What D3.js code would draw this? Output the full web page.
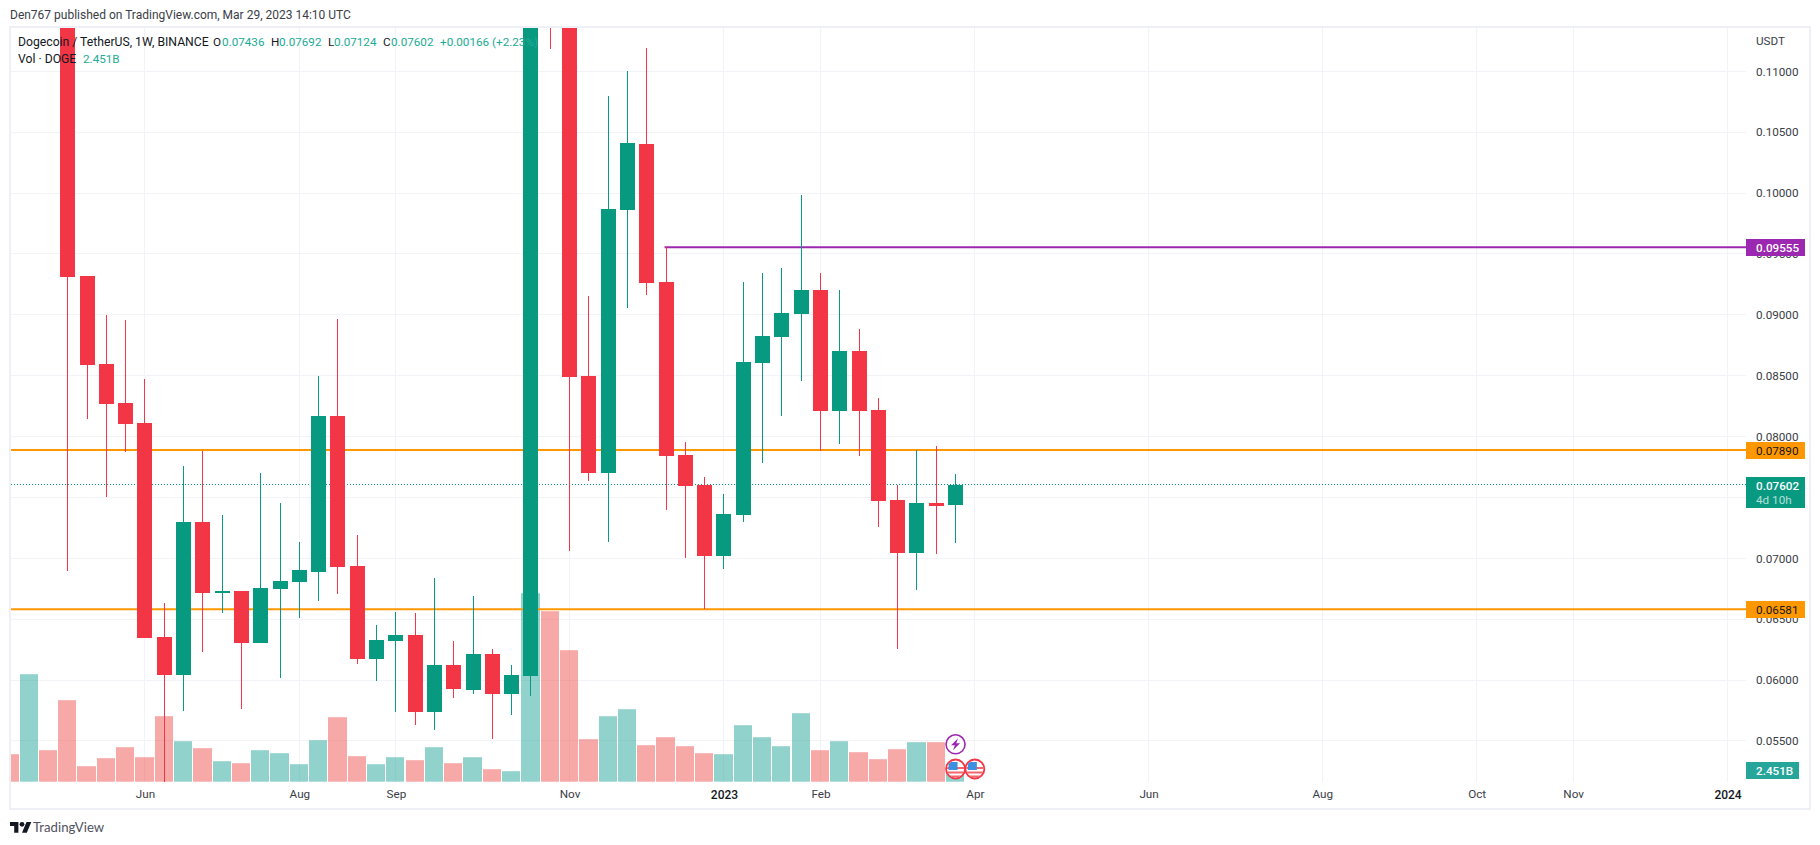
<!DOCTYPE html>
<html>
<head>
<meta charset="utf-8">
<title>Dogecoin / TetherUS, 1W</title>
<script src="https://cdn.jsdelivr.net/npm/d3@7"></script>
<style>
  html,body{margin:0;background:#fff;}
  svg{display:block;font-family:Roboto,sans-serif;}
  .axis path,.axis line{display:none;}
  .axis text{font-family:Roboto,sans-serif;font-size:11.7px;fill:#3a3d46;}
  .axis text.year{fill:#131722;font-weight:500;font-size:12px;}
</style>
</head>
<body>
<svg id="chart" width="1820" height="845"></svg>
<script>
/* =========================================================
 * DOGE/USDT 週足 (TradingView スナップショットの再現)
 *  - 値はすべて画像から読み取り。画面外の値は推定
 * ========================================================= */

const opens  = [.1300,.09317,.08594,.08274,.08110,.06353,.06041,.07297,.06714,.06731,.06304,.06747,.06805,.06887,.08168,.06936,.06173,.06320,.06370,.05737,.06123,.05918,.06214,.05885,.06033,.1300,.1240,.08496,.07700,.09859,.10401,.09268,.07847,.07601,.07018,.07355,.08603,.08816,.09005,.09202,.08209,.08701,.08217,.07478,.07043,.07453,.07436];
const highs  = [.1370,.09317,.08997,.08956,.08471,.06632,.07757,.07880,.07355,.06731,.07700,.07453,.07133,.08496,.08964,.07191,.06452,.06558,.06550,.06838,.06320,.06690,.06255,.06123,.1570,.1560,.1290,.09153,.10795,.11000,.11189,.09555,.07954,.07667,.07527,.09268,.09342,.09383,.09982,.09342,.09202,.08882,.08315,.07601,.07888,.07921,.07692];
const lows   = [.06895,.08143,.07503,.07872,.06345,.0495,.05746,.06230,.06550,.05762,.06304,.06017,.06509,.06649,.06706,.06132,.05992,.05737,.05631,.05590,.05852,.05885,.05516,.05713,.05869,.11181,.07059,.07634,.07133,.09054,.09161,.07396,.07002,.06583,.06912,.07297,.07782,.08168,.08455,.07880,.07938,.07839,.07256,.06255,.06739,.07035,.07124];
const closes = [.09311,.08586,.08266,.08102,.06345,.06041,.07297,.06714,.06731,.06304,.06755,.06813,.06903,.08168,.06928,.06173,.06329,.06370,.05737,.06123,.05926,.06214,.05885,.06041,.1300,.1240,.08488,.07700,.09867,.10409,.09260,.07839,.07593,.07018,.07363,.08611,.08824,.09013,.09202,.08209,.08701,.08209,.07470,.07043,.07453,.07429,.07602];

/* 出来高 (十億DOGE)。先頭3本はローソク足が画面外の週 */
const volumeWeeks = d3.range(-3, 47);
const volumes = [5.5,21.5,6.3,16.3,3.1,4.7,6.9,4.9,13.1,8.1,6.7,4.1,3.7,6.3,5.7,3.5,8.3,12.9,5.1,3.5,4.9,4.3,6.9,3.7,4.9,2.5,2.1,37.7,34.1,26.3,8.5,13.1,14.5,7.3,8.9,7.1,5.7,5.5,11.3,8.9,7.1,13.7,6.3,8.1,5.9,4.5,6.5,7.9,7.9,2.451];
const volumeLeadUp = [false, true, false];

const priceTicks = [.055,.06,.065,.07,.075,.08,.085,.09,.095,.10,.105,.11];
const priceLabels = priceTicks.filter(v=>v!==.075); /* 0.07500 は現在値タグの下に隠れる */
const timeWeeks  = [4,12,17,26,34,39,47,56,65,73,78,86];
const timeLabels = ["Jun","Aug","Sep","Nov","2023","Feb","Apr","Jun","Aug","Oct","Nov","2024"];

const UP = "#089981", DOWN = "#F23645", ORANGE = "#FF9800", PURPLE = "#9C27B0";
const GRID = "#f2f3f6", FRAME = "#eff0f5";

const svg = d3.select("#chart");
const plot = {left:11, right:1746, top:28, bottom:782};

const x = d3.scaleLinear().domain([0,86]).range([67.75,1727.55]);
const y = d3.scaleLinear().domain([.055,.11]).range([740.9,71.3]);
const yVol = d3.scaleLinear().domain([0,50]).range([781.7,531.7]);
const crisp = v => Math.floor(v)+0.5;

svg.append("defs").append("clipPath").attr("id","plot-clip").append("rect")
  .attr("x",plot.left).attr("y",plot.top)
  .attr("width",plot.right-plot.left).attr("height",plot.bottom-plot.top);
svg.select("defs").append("clipPath").attr("id","flag-clip").append("circle").attr("r",8.6);

/* ---------------- 枠とグリッド ---------------- */
svg.append("rect").attr("x",10).attr("y",27).attr("width",1800).attr("height",782)
  .attr("fill","#fff").attr("stroke",FRAME).attr("stroke-width",2);

const grid = svg.append("g").attr("stroke",GRID);
grid.selectAll("line.h").data(priceTicks).join("line").attr("class","h")
  .attr("x1",plot.left).attr("x2",plot.right)
  .attr("y1",d=>crisp(y(d))).attr("y2",d=>crisp(y(d)));
grid.selectAll("line.v").data(timeWeeks).join("line").attr("class","v")
  .attr("x1",d=>crisp(x(d))).attr("x2",d=>crisp(x(d)))
  .attr("y1",plot.top).attr("y2",plot.bottom);

const chart = svg.append("g").attr("clip-path","url(#plot-clip)");

/* ---------------- 出来高 ---------------- */
const volUp = i => i<0 ? volumeLeadUp[i+3] : closes[i]>=opens[i];
chart.append("g").selectAll("rect").data(volumeWeeks).join("rect")
  .attr("x",i=>Math.round(x(i)-9.65))
  .attr("width",i=>Math.round(x(i)+9.65)-Math.round(x(i)-9.65)-1)
  .attr("y",(i,k)=>yVol(volumes[k]))
  .attr("height",(i,k)=>yVol(0)-yVol(volumes[k]))
  .attr("fill",i=>volUp(i)?"#26a69a":"#ef5350")
  .attr("fill-opacity",0.5);

/* ---------------- 現在値と水平線 ---------------- */
const lastClose = closes[closes.length-1];
chart.append("line").attr("x1",plot.left).attr("x2",plot.right)
  .attr("y1",crisp(y(lastClose))).attr("y2",crisp(y(lastClose)))
  .attr("stroke",UP).attr("stroke-dasharray","1 2");

const levels = [
  {v:.07890, color:ORANGE, from:null},
  {v:.06581, color:ORANGE, from:null},
  {v:.09555, color:PURPLE, from:31}
];
chart.selectAll("line.level").data(levels).join("line").attr("class","level")
  .attr("x1",d=>d.from==null?plot.left:x(d.from)-1.5).attr("x2",plot.right)
  .attr("y1",d=>y(d.v)).attr("y2",d=>y(d.v))
  .attr("stroke",d=>d.color).attr("stroke-width",2);

/* ---------------- ローソク足 ---------------- */
const candle = chart.append("g").selectAll("g").data(opens).join("g")
  .attr("fill",(d,i)=>closes[i]>=opens[i]?UP:DOWN);
candle.append("rect")
  .attr("x",(d,i)=>Math.floor(x(i)))
  .attr("width",1)
  .attr("y",(d,i)=>Math.round(y(highs[i])))
  .attr("height",(d,i)=>Math.round(y(lows[i]))-Math.round(y(highs[i])));
candle.append("rect")
  .attr("x",(d,i)=>Math.floor(x(i))-7)
  .attr("width",15)
  .attr("y",(d,i)=>Math.round(y(Math.max(opens[i],closes[i]))))
  .attr("height",(d,i)=>Math.max(1,Math.round(y(Math.min(opens[i],closes[i])))-Math.round(y(Math.max(opens[i],closes[i])))));

/* ---------------- イベントアイコン ---------------- */
function flag(week){
  const g = svg.append("g").attr("transform",`translate(${x(week)},769)`);
  g.append("circle").attr("r",9.5).attr("fill","#fff").attr("stroke",DOWN).attr("stroke-width",1.8);
  const f = g.append("g").attr("clip-path","url(#flag-clip)");
  [-2,2.5,6.5].forEach(s=>f.append("rect").attr("x",-9).attr("y",s).attr("width",18).attr("height",2).attr("fill","#f4656f"));
  f.append("rect").attr("x",-7).attr("y",-7).attr("width",9).attr("height",8).attr("fill","#3f8fe0");
}
const bolt = svg.append("g").attr("transform",`translate(${x(46)},744.3)`);
bolt.append("circle").attr("r",9.5).attr("fill","#fff").attr("stroke",PURPLE).attr("stroke-width",1.6);
bolt.append("path").attr("d","M2.5,-6 L-4.5,1 L-0.7,1 L-2.5,6 L4.5,-1 L0.7,-1 Z").attr("fill",PURPLE);
flag(46); flag(47);

/* ---------------- 軸 ---------------- */
svg.append("g").attr("class","axis").attr("transform",`translate(1747,0)`)
  .call(d3.axisRight(y).tickValues(priceLabels).tickSize(0).tickPadding(9).tickFormat(d3.format(".5f")));
svg.append("g").attr("class","axis").attr("transform",`translate(0,790)`)
  .call(d3.axisBottom(x).tickValues(timeWeeks).tickSize(0).tickPadding(0)
    .tickFormat((d,i)=>timeLabels[i]))
  .selectAll("text").classed("year",(d,i)=>/^\d/.test(timeLabels[i]));

/* ---------------- 価格タグ ---------------- */
function tag(v,label,fill,text,opt={}){
  const h = opt.h||17, w = opt.w||59, top = opt.top!=null?opt.top:Math.round(y(v))-8;
  svg.append("rect").attr("x",1746).attr("y",top).attr("width",w).attr("height",h).attr("fill",fill);
  svg.append("text").attr("x",1756).attr("y",top+13).attr("font-size",11.7)
    .attr("font-weight",opt.bold?500:400).attr("fill",text).text(label);
}
tag(.09555,"0.09555",PURPLE,"#fff",{bold:true});
tag(.07890,"0.07890",ORANGE,"#131722");
tag(.06581,"0.06581",ORANGE,"#131722");
tag(lastClose,"0.07602",UP,"#fff",{bold:true,h:31,top:477});
svg.append("text").attr("x",1756).attr("y",504).attr("font-size",11.7).attr("fill","#fff").attr("fill-opacity",.7).text("4d 10h");
tag(null,"2.451B","#26a69a","#fff",{bold:true,w:53,top:762});

/* ---------------- テキスト ---------------- */
const INK = "#131722", VAL = "#22ab94";
svg.append("text").attr("x",10).attr("y",19).attr("font-size",12).attr("fill","#3a3d46")
  .text("Den767 published on TradingView.com, Mar 29, 2023 14:10 UTC");
svg.append("text").attr("x",1756).attr("y",45).attr("font-size",11.7).attr("fill","#3a3d46").text("USDT");

function legendRow(yPos,parts){
  parts.forEach(p=>svg.append("text").attr("x",p[0]).attr("y",yPos).attr("font-size",p[3]||11.7)
    .attr("fill",p[2]).text(p[1]));
}
legendRow(46,[[18,"Dogecoin / TetherUS, 1W, BINANCE",INK,12.2],[213,"O",INK],[222,"0.07436",VAL],[271,"H",INK],[279,"0.07692",VAL],
  [328,"L",INK],[334,"0.07124",VAL],[383,"C",INK],[391,"0.07602",VAL],[440,"+0.00166 (+2.23%)",VAL]]);
legendRow(63,[[18,"Vol · DOGE",INK,12.2],[83,"2.451B",VAL]]);

/* ---------------- ロゴ ---------------- */
const logo = svg.append("g").attr("transform","translate(10,819.5) scale(.6)").attr("fill","#131722");
logo.append("path").attr("d","M14 22H7V11H0V4h14v18zM28 22h-8l7.5-18h8L28 22z");
logo.append("circle").attr("cx",20).attr("cy",8).attr("r",4);
svg.append("text").attr("x",33).attr("y",832).attr("font-family","Lato").attr("font-size",13.2)
  .attr("fill","#50535e").text("TradingView");
</script>
</body>
</html>
